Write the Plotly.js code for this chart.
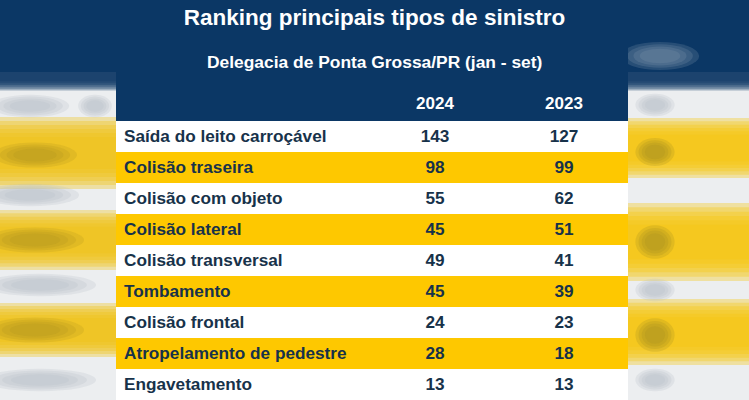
<!DOCTYPE html>
<html>
<head>
<meta charset="utf-8">
<script src="https://cdn.plot.ly/plotly-3.0.1.min.js"></script>
<style>html,body{margin:0;padding:0;background:#fff;}#chart{width:749px;height:400px;}</style>
</head>
<body>
<div id="chart"></div>
<script>
const titleText = "Ranking principais tipos de sinistro";
const subtitleText = "Delegacia de Ponta Grossa/PR (jan - set)";
const headerLabels = ["", "2024", "2023"];
const categories = [
  "Saída do leito carroçável",
  "Colisão traseira",
  "Colisão com objeto",
  "Colisão lateral",
  "Colisão transversal",
  "Tombamento",
  "Colisão frontal",
  "Atropelamento de pedestre",
  "Engavetamento"
];
const values2024 = [143, 98, 55, 45, 49, 45, 24, 28, 13];
const values2023 = [127, 99, 62, 51, 41, 39, 23, 18, 13];

const W = 749, H = 400;
const BLUE = "#0b3765", YELLOW = "#fec800", WHITE = "#ffffff", TXT = "#17324a";
const FONT = "Liberation Sans, Arial, sans-serif";
const rowFill = categories.map((c, i) => i % 2 === 0 ? WHITE : YELLOW);

const px = x => x / W, py = y => 1 - y / H;
const shapes = [];
function rect(x0, y0, x1, y1, color, op) {
  shapes.push({type: "rect", xref: "paper", yref: "paper", layer: "below",
    x0: px(x0), x1: px(x1), y0: py(y1), y1: py(y0),
    fillcolor: color, opacity: op === undefined ? 1 : op, line: {width: 0}});
}
function softBand(x0, x1, yc, half, color, n, op) {
  for (let k = 0; k < n; k++) {
    const f = 1.5 - k * (1.0 / n);
    rect(x0, yc - half * f, x1, yc + half * f, color, op);
  }
}
function softBlob(xc, yc, hw, hh, color, n, op) {
  for (let k = 0; k < n; k++) {
    const f = 1.4 - k * (0.9 / n);
    shapes.push({type: "circle", xref: "paper", yref: "paper", layer: "below",
      x0: px(xc - hw * f), x1: px(xc + hw * f), y0: py(yc + hh * f), y1: py(yc - hh * f),
      fillcolor: color, opacity: op, line: {width: 0}});
  }
}
// side backgrounds (blurred)
[[0, 121], [628, 749]].forEach(([a, b]) => {
  rect(a, 0, b, H, "#eceef0");
  softBand(a, b, 74, 11, BLUE, 6, 0.35);
  rect(a, 0, b, 72, BLUE);
});
// left side
softBand(0, 121, 153, 24, "#f0c417", 6, 0.35);
softBand(0, 121, 240, 20, "#f0c417", 6, 0.35);
softBand(0, 121, 330, 18, "#f0c417", 6, 0.35);
softBlob(35, 155, 30, 9, "#a89020", 4, 0.2);
softBlob(35, 240, 35, 9, "#a89020", 4, 0.2);
softBlob(35, 330, 35, 9, "#a89020", 4, 0.2);
softBlob(30, 106, 28, 8, "#b8c0c6", 4, 0.25);
softBlob(95, 106, 12, 8, "#b8c0c6", 4, 0.25);
softBlob(30, 195, 35, 8, "#b8c0c6", 4, 0.25);
softBlob(40, 285, 40, 8, "#b8c0c6", 4, 0.25);
softBlob(40, 380, 40, 8, "#b8c0c6", 4, 0.25);
// right side
softBand(628, 749, 148, 20, "#f5c60f", 6, 0.35);
softBand(628, 749, 242, 26, "#f5c60f", 6, 0.35);
softBand(628, 749, 332, 22, "#f5c60f", 6, 0.35);
softBlob(655, 152, 14, 10, "#a89020", 4, 0.25);
softBlob(655, 242, 14, 12, "#a89020", 4, 0.25);
softBlob(655, 335, 14, 12, "#a89020", 4, 0.25);
softBlob(660, 56, 28, 10, "#7b93ab", 4, 0.25);
softBlob(655, 105, 14, 8, "#b8c0c6", 4, 0.25);
softBlob(655, 290, 14, 8, "#b8c0c6", 4, 0.25);
softBlob(655, 380, 14, 8, "#b8c0c6", 4, 0.25);
// center header block
rect(116, 0, 628, 122, BLUE);

const trace = {
  type: "table",
  domain: {x: [px(116), px(628)], y: [0, py(88)]},
  columnwidth: [254, 130, 128],
  header: {
    values: headerLabels,
    align: ["left", "center", "center"],
    height: 33,
    fill: {color: BLUE},
    line: {width: 0, color: BLUE},
    font: {family: FONT, size: 17, color: "#ffffff", weight: "bold"}
  },
  cells: {
    values: [categories, values2024, values2023],
    align: ["left", "center", "center"],
    height: 31,
    fill: {color: [rowFill, rowFill, rowFill]},
    line: {width: 0, color: rowFill},
    font: {family: FONT, size: 17.2, color: TXT, weight: "bold"}
  }
};

const layout = {
  width: W, height: H,
  margin: {l: 0, r: 0, t: 0, b: 0},
  paper_bgcolor: "#ffffff",
  showlegend: false,
  title: {text: titleText, x: 0.5, xanchor: "center", y: 1 - 17 / H, yanchor: "middle", yref: "container",
    font: {family: FONT, size: 22.5, color: "#ffffff", weight: "bold"}},
  annotations: [{text: subtitleText, xref: "paper", yref: "paper", x: 0.5, y: py(62), xanchor: "center", yanchor: "middle",
    showarrow: false, font: {family: FONT, size: 17.4, color: "#ffffff", weight: "bold"}}],
  shapes: shapes
};
Plotly.newPlot("chart", [trace], layout, {displayModeBar: false, staticPlot: true});
</script>
</body>
</html>
